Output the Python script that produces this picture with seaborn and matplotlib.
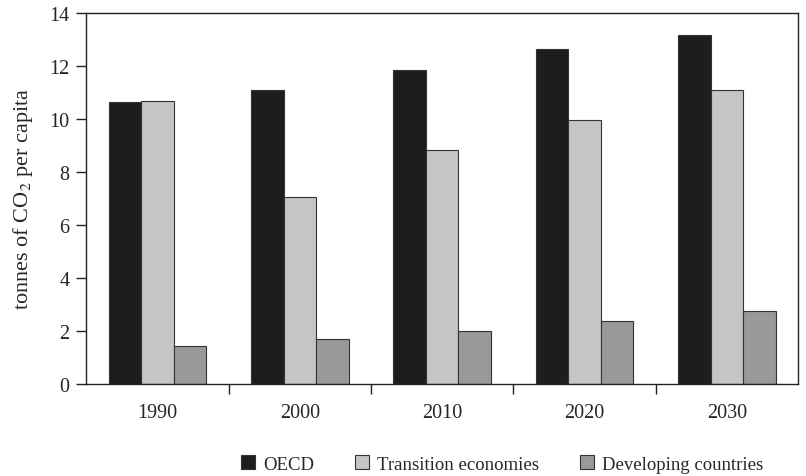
import pandas as pd
import numpy as np
import matplotlib.pyplot as plt
import seaborn as sns

years = ['1990', '2000', '2010', '2020', '2030']
series = ['OECD', 'Transition economies', 'Developing countries']
oecd = [10.62, 11.08, 11.83, 12.63, 13.15]
transition = [10.69, 7.04, 8.84, 9.95, 11.09]
developing = [1.43, 1.71, 1.99, 2.37, 2.77]

df = pd.DataFrame({
    'year': years * 3,
    'group': [s for s in series for _ in years],
    'value': oecd + transition + developing,
})

sns.set_theme(style='white')
plt.rcParams['font.family'] = ['Liberation Serif', 'DejaVu Serif']
plt.rcParams['mathtext.fontset'] = 'stix'

colors = ['#1d1d20', '#c4c5c8', '#99989c']

fig, ax = plt.subplots(figsize=(8.06, 4.77), dpi=100)
fig.subplots_adjust(left=0.107, right=0.990, top=0.971, bottom=0.193)

sns.barplot(data=df, x='year', y='value', hue='group', order=years,
            hue_order=series, palette=colors, width=0.685, gap=0,
            edgecolor='#333333', linewidth=0.8, ax=ax, legend=False)

ax.set_ylim(0, 14)
ax.set_xlim(-0.5, len(years) - 0.5)
ax.set_yticks(np.arange(0, 15, 2))
ax.set_xlabel('')
ax.set_ylabel('tonnes of CO$_2$ per capita', fontsize=16, labelpad=10)

for s in ax.spines.values():
    s.set_color('#222222')
    s.set_linewidth(1.0)

ax.tick_params(axis='y', which='major', direction='out', length=7, width=1,
               color='#222222', labelsize=14.5, left=True, pad=5)
ax.tick_params(axis='x', which='major', length=0, labelsize=14.5, pad=14)
ax.set_xticks(np.arange(0.5, len(years) - 1, 1), minor=True)
ax.tick_params(axis='x', which='minor', direction='out', length=7, width=1,
               color='#222222', bottom=True)

handles = [plt.Rectangle((0, 0), 1, 1, facecolor=c, edgecolor='#333333', linewidth=0.8)
           for c in colors]
fig.legend(handles, series, loc='center', bbox_to_anchor=(0.623, 0.025), ncol=3,
           frameon=False, fontsize=13.5, handlelength=0.75, handleheight=0.75,
           handletextpad=0.4, columnspacing=2.2)

plt.savefig('out.png', dpi=100)
